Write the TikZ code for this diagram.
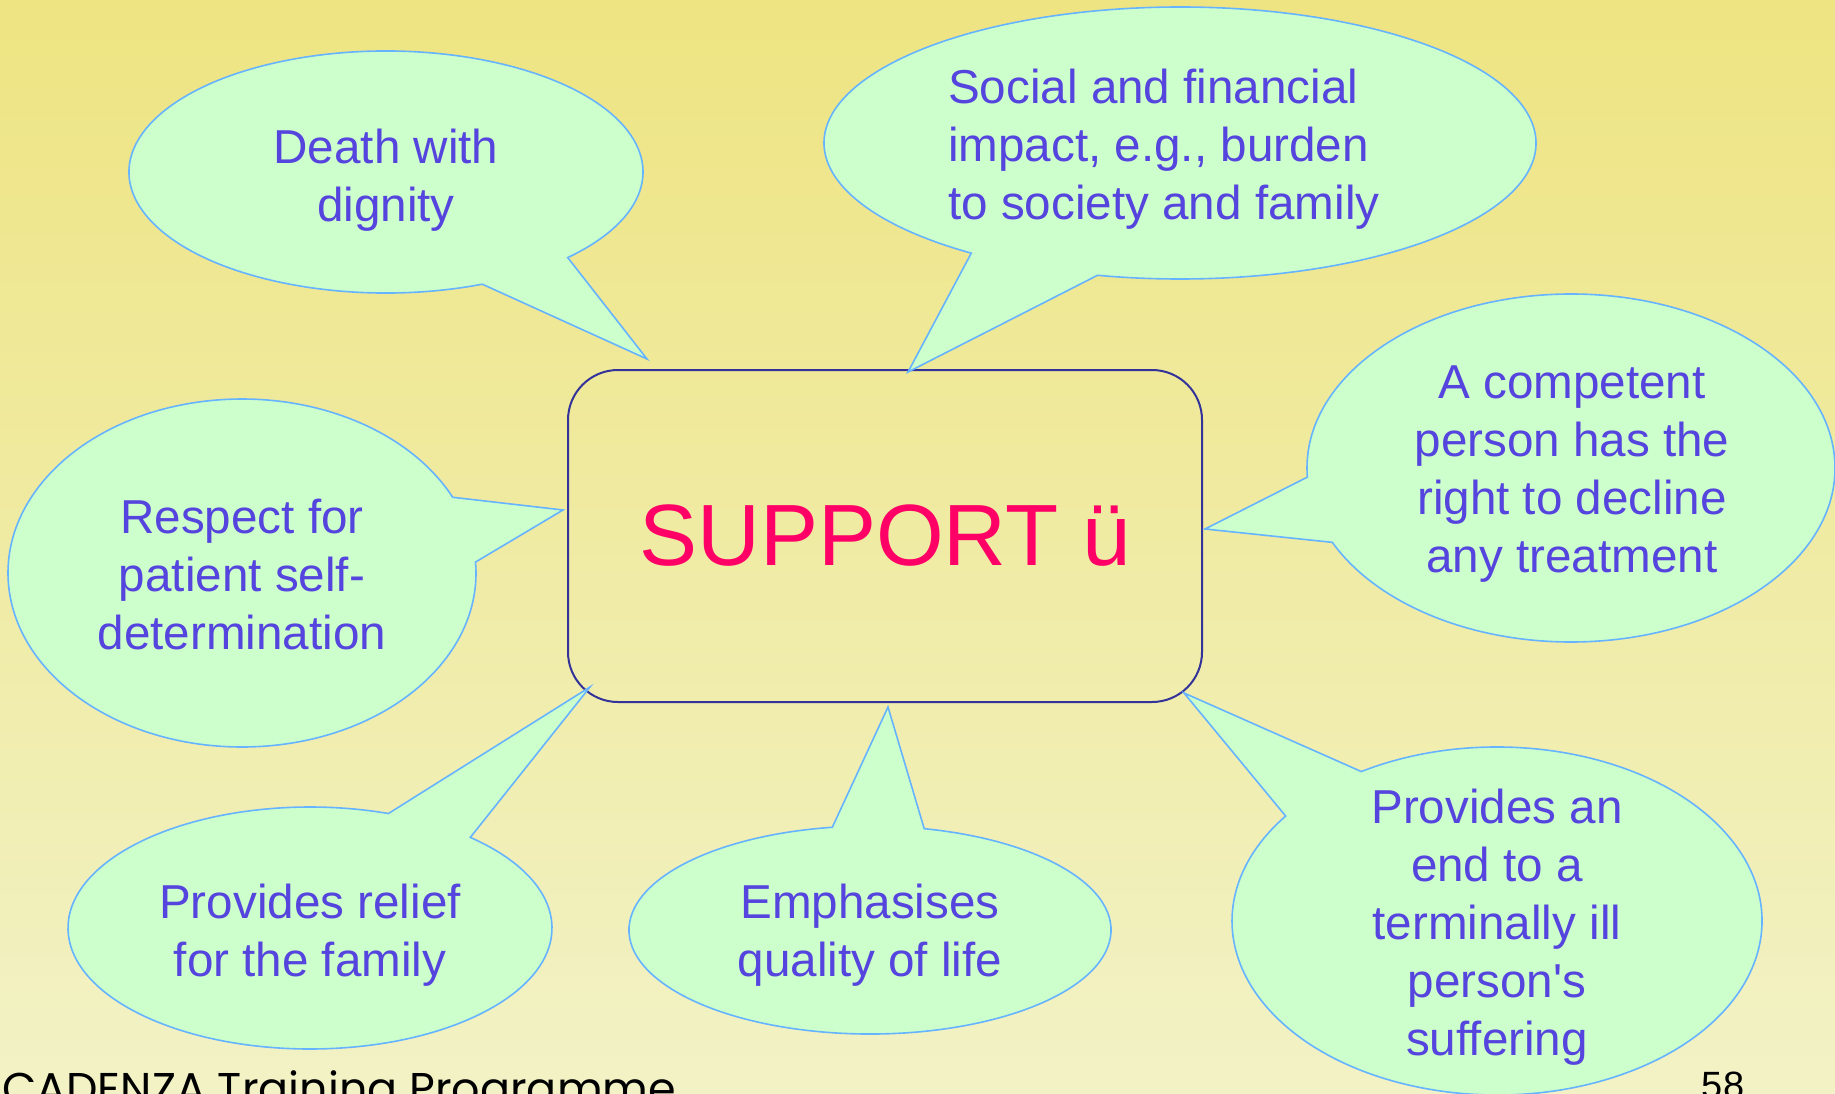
\documentclass[tikz,border=0pt]{standalone}
\usepackage{fontspec}
\setmainfont{Liberation Sans}
\newfontfamily\footfont{Poppins}
\usetikzlibrary{calc}

\definecolor{bgtop}{HTML}{EEE482}
\definecolor{bgmid}{HTML}{F0EC98}
\definecolor{bgbot}{HTML}{F2F2C6}
\definecolor{bubblefill}{HTML}{CCFFCC}
\definecolor{bubbleline}{HTML}{66B3FF}
\definecolor{bubbletext}{HTML}{5544DD}
\definecolor{boxline}{HTML}{333399}
\definecolor{supportred}{HTML}{FF0066}

\tikzset{
  bubble/.style={fill=bubblefill, draw=bubbleline, line width=1.6pt, line join=miter},
  bubbletxt/.style={text=bubbletext, align=center, inner sep=0pt,
    font=\fontsize{47.6}{58}\selectfont},
  centrebox/.style={draw=boxline, line width=2pt, rounded corners=50pt,
    minimum width=634pt, minimum height=332pt, inner sep=0pt,
    text=supportred, font=\fontsize{87}{100}\selectfont},
}

% #1 centre, #2 x radius, #3 y radius, #4 first base angle,
% #5 tip, #6 second base angle, #7 arc end angle
\newcommand\speechbubble[7]{%
  \filldraw[bubble] ($(#1)+(#4:#2 and #3)$) -- (#5) -- ($(#1)+(#6:#2 and #3)$)
    arc[start angle=#6, end angle=#7, x radius=#2, y radius=#3] -- cycle;}

\begin{document}
\begin{tikzpicture}[x=1pt, y=-1pt]
  \useasboundingbox (0,0) rectangle (1835,1094);
  \clip (0,0) rectangle (1835,1094);
  \shade[top color=bgtop, middle color=bgmid, bottom color=bgbot]
    (0,0) rectangle (1835,1094);

  % central box
  \node[centrebox] (support) at (885,536) {SUPPORT ü};

  % bubble centres and tail tips
  \coordinate (death) at (386,172);    \coordinate (deathtip) at (647,359);
  \coordinate (social) at (1180,143);  \coordinate (socialtip) at (908,372);
  \coordinate (decline) at (1571,468); \coordinate (declinetip) at (1205,529);
  \coordinate (respect) at (242,573);  \coordinate (respecttip) at (563,510);
  \coordinate (relief) at (310,928);   \coordinate (relieftip) at (590,687);
  \coordinate (quality) at (870,930);  \coordinate (qualitytip) at (888,707);
  \coordinate (ending) at (1497,921);  \coordinate (endingtip) at (1184,693);

  \speechbubble{death}{257}{121}{45}{deathtip}{68}{405}
  \speechbubble{social}{356}{136}{103.4}{socialtip}{125.9}{463.4}
  \speechbubble{decline}{264}{174}{154.7}{declinetip}{177}{514.7}
  \speechbubble{respect}{234}{174}{-25.8}{respecttip}{-3.6}{334.2}
  \speechbubble{relief}{242}{121}{-71.1}{relieftip}{-48.5}{288.9}
  \speechbubble{quality}{241}{104}{-99}{qualitytip}{-77}{261}
  \speechbubble{ending}{265}{174}{-142.9}{endingtip}{-120.8}{217.1}

  % bubble texts
  \node[bubbletxt] (deathtext) at (386,180) {Death with\\dignity};
  \node[bubbletxt, align=left, anchor=west] (socialtext) at (948,149)
    {Social and financial\\impact, e.g., burden\\to society and family};
  \node[bubbletxt] (declinetext) at (1572,474)
    {A competent\\person has the\\right to decline\\any treatment};
  \node[bubbletxt] (respecttext) at (242,575)
    {Respect for\\patient self-\\determination};
  \node[bubbletxt] (relieftext) at (310,935) {Provides relief\\for the family};
  \node[bubbletxt] (qualitytext) at (870,935) {Emphasises\\quality of life};
  \node[bubbletxt] (endingtext) at (1497,927)
    {Provides an\\end to a\\terminally ill\\person\textquotesingle s\\suffering};

  % footer
  \node[anchor=base west, inner sep=0pt] (footer) at (2,1104)
    {\resizebox{674pt}{!}{\footfont\fontsize{46}{50}\selectfont CADENZA Training Programme}};
  \node[anchor=base, inner sep=0pt, font=\fontsize{38}{40}\selectfont] (pagenum)
    at (1723,1098) {58};
\end{tikzpicture}
\end{document}
